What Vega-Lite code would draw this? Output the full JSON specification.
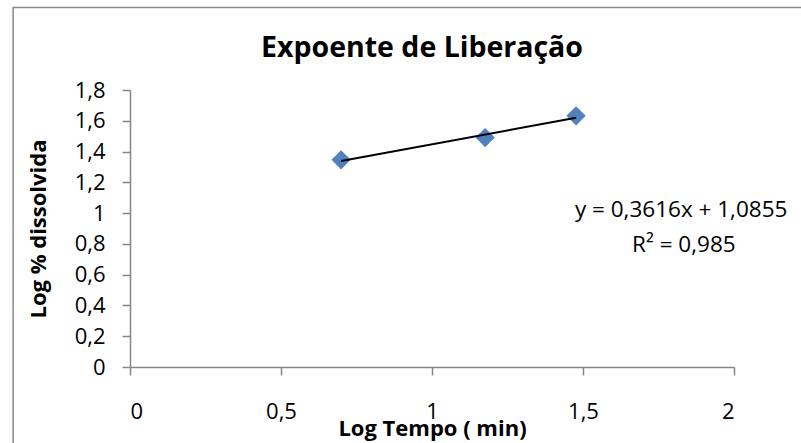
{
  "$schema": "https://vega.github.io/schema/vega-lite/v6.json",
  "autosize": "none",
  "width": 604,
  "height": 277,
  "padding": {"left": 130, "top": 90, "right": 67, "bottom": 76},
  "background": "white",
  "title": {
    "text": "Expoente de Liberação",
    "font": "Open Sans",
    "fontSize": 28.5,
    "fontWeight": "bold",
    "color": "black",
    "anchor": "middle",
    "frame": "group",
    "baseline": "alphabetic",
    "dx": -10,
    "offset": -79
  },
  "datasets": {
    "pontos": [
      {"log_tempo": 0.699, "log_dissolvida": 1.346},
      {"log_tempo": 1.176, "log_dissolvida": 1.491},
      {"log_tempo": 1.477, "log_dissolvida": 1.632}
    ],
    "equacao": [
      {"texto": "y = 0,3616x + 1,0855", "log_tempo": 1.825, "log_dissolvida": 0.975},
      {"texto": "R² = 0,985", "log_tempo": 1.834, "log_dissolvida": 0.747}
    ]
  },
  "config": {
    "view": {"stroke": null},
    "font": "Open Sans",
    "axis": {"labelOverlap": false, "grid": false}
  },
  "layer": [
    {
      "encoding": {
        "x": {
          "field": "log_tempo",
          "type": "quantitative",
          "scale": {"domain": [0, 2], "nice": false, "zero": false},
          "axis": {
            "values": [0, 0.5, 1, 1.5, 2],
            "labelExpr": "replace(format(datum.value, '~g'), '.', ',')",
            "labelOverlap": false,
            "grid": false,
            "domainColor": "#868686",
            "domainWidth": 1.5,
            "tickColor": "#868686",
            "tickWidth": 1.5,
            "tickSize": 8,
            "labelFont": "Open Sans",
            "labelFontSize": 22,
            "labelColor": "black",
            "labelPadding": 26,
            "title": "Log Tempo ( min)",
            "titleFont": "Open Sans",
            "titleFontSize": 22,
            "titleFontWeight": "bold",
            "titleColor": "black",
            "titlePadding": -4
          }
        },
        "y": {
          "field": "log_dissolvida",
          "type": "quantitative",
          "scale": {"domain": [0, 1.8], "nice": false, "zero": false},
          "axis": {
            "values": [0, 0.2, 0.4, 0.6, 0.8, 1, 1.2, 1.4, 1.6, 1.8],
            "labelExpr": "replace(format(datum.value, '~g'), '.', ',')",
            "labelOverlap": false,
            "grid": false,
            "domainColor": "#868686",
            "domainWidth": 1.5,
            "tickColor": "#868686",
            "tickWidth": 1.5,
            "tickSize": 8,
            "labelFont": "Open Sans",
            "labelFontSize": 22,
            "labelColor": "black",
            "labelPadding": 17,
            "title": "Log % dissolvida",
            "titleFont": "Open Sans",
            "titleFontSize": 22,
            "titleFontWeight": "bold",
            "titleColor": "black",
            "titlePadding": 24
          }
        }
      },
      "layer": [
        {
          "data": {"name": "pontos"},
          "mark": {"type": "point", "shape": "diamond", "filled": true, "size": 370, "color": "#4F81BD", "opacity": 1}
        },
        {
          "data": {"name": "pontos"},
          "transform": [{"regression": "log_dissolvida", "on": "log_tempo"}],
          "mark": {"type": "line", "color": "black", "strokeWidth": 2}
        },
        {
          "data": {"name": "equacao"},
          "mark": {"type": "text", "font": "Open Sans", "fontSize": 22.5, "color": "black", "align": "center", "baseline": "alphabetic"},
          "encoding": {
            "text": {"field": "texto"}
          }
        }
      ]
    },
    {
      "data": {"values": [{}]},
      "mark": {"type": "rect", "fill": "white", "fillOpacity": 0, "stroke": "#888888", "strokeOpacity": 1, "strokeWidth": 1.5, "clip": false},
      "encoding": {
        "x": {
          "datum": -0.387,
          "type": "quantitative",
          "axis": {
            "values": [0, 0.5, 1, 1.5, 2],
            "labelExpr": "replace(format(datum.value, '~g'), '.', ',')",
            "labelOverlap": false,
            "grid": false,
            "domainColor": "#868686",
            "domainWidth": 1.5,
            "tickColor": "#868686",
            "tickWidth": 1.5,
            "tickSize": 8,
            "labelFont": "Open Sans",
            "labelFontSize": 22,
            "labelColor": "black",
            "labelPadding": 26,
            "title": "Log Tempo ( min)",
            "titleFont": "Open Sans",
            "titleFontSize": 22,
            "titleFontWeight": "bold",
            "titleColor": "black",
            "titlePadding": -4
          }
        },
        "x2": {"datum": 2.6},
        "y": {
          "datum": 2.336,
          "type": "quantitative",
          "axis": {
            "values": [0, 0.2, 0.4, 0.6, 0.8, 1, 1.2, 1.4, 1.6, 1.8],
            "labelExpr": "replace(format(datum.value, '~g'), '.', ',')",
            "labelOverlap": false,
            "grid": false,
            "domainColor": "#868686",
            "domainWidth": 1.5,
            "tickColor": "#868686",
            "tickWidth": 1.5,
            "tickSize": 8,
            "labelFont": "Open Sans",
            "labelFontSize": 22,
            "labelColor": "black",
            "labelPadding": 17,
            "title": "Log % dissolvida",
            "titleFont": "Open Sans",
            "titleFontSize": 22,
            "titleFontWeight": "bold",
            "titleColor": "black",
            "titlePadding": 24
          }
        },
        "y2": {"datum": -0.7}
      }
    }
  ]
}
